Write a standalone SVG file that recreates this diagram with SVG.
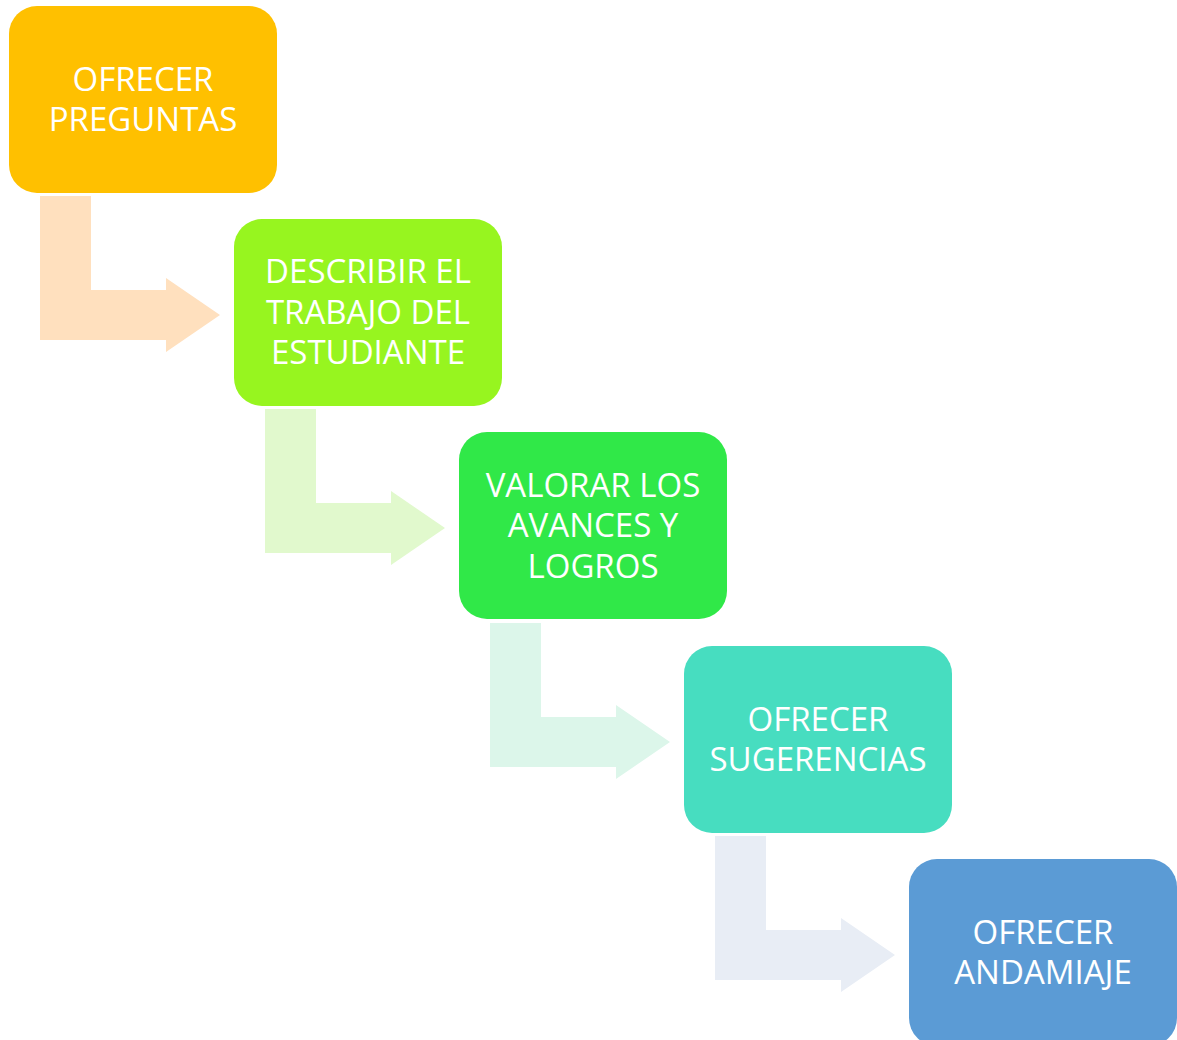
<svg xmlns="http://www.w3.org/2000/svg" width="1177" height="1040" viewBox="0 0 1177 1040">
<style>
.t{font-family:"Open Sans","Noto Sans",sans-serif;font-size:33px;fill:#fff;text-anchor:middle}
</style>
<defs>
<path id="arr" d="M40,196 H91 V290 H166 V278 L220,315 L166,352 V340 H40 Z"/>
</defs>
<rect width="1177" height="1040" fill="#fff"/>
<g id="connectors">
<use href="#arr" fill="#FFE0BE"/>
<use href="#arr" transform="translate(225,213)" fill="#E1F9CD"/>
<use href="#arr" transform="translate(450,427)" fill="#DCF6EA"/>
<use href="#arr" transform="translate(675,640)" fill="#E8EDF5"/>
</g>
<g id="n1">
<rect x="9" y="6" width="268" height="187" rx="28" fill="#FFC000"/>
<text class="t" x="143" y="91">OFRECER<tspan x="143" dy="40">PREGUNTAS</tspan></text>
</g>
<g id="n2">
<rect x="234" y="219" width="268" height="187" rx="28" fill="#97F51F"/>
<text class="t" x="368" y="283">DESCRIBIR EL<tspan x="368" dy="41">TRABAJO DEL</tspan><tspan x="368" dy="40">ESTUDIANTE</tspan></text>
</g>
<g id="n3">
<rect x="459" y="432" width="268" height="187" rx="28" fill="#30E848"/>
<text class="t" x="593" y="497">VALORAR LOS<tspan x="593" dy="40">AVANCES Y</tspan><tspan x="593" dy="41">LOGROS</tspan></text>
</g>
<g id="n4">
<rect x="684" y="646" width="268" height="187" rx="28" fill="#47DDC0"/>
<text class="t" x="818" y="731">OFRECER<tspan x="818" dy="40">SUGERENCIAS</tspan></text>
</g>
<g id="n5">
<rect x="909" y="859" width="268" height="187" rx="28" fill="#5B9BD5"/>
<text class="t" x="1043" y="944">OFRECER<tspan x="1043" dy="40">ANDAMIAJE</tspan></text>
</g>
</svg>
